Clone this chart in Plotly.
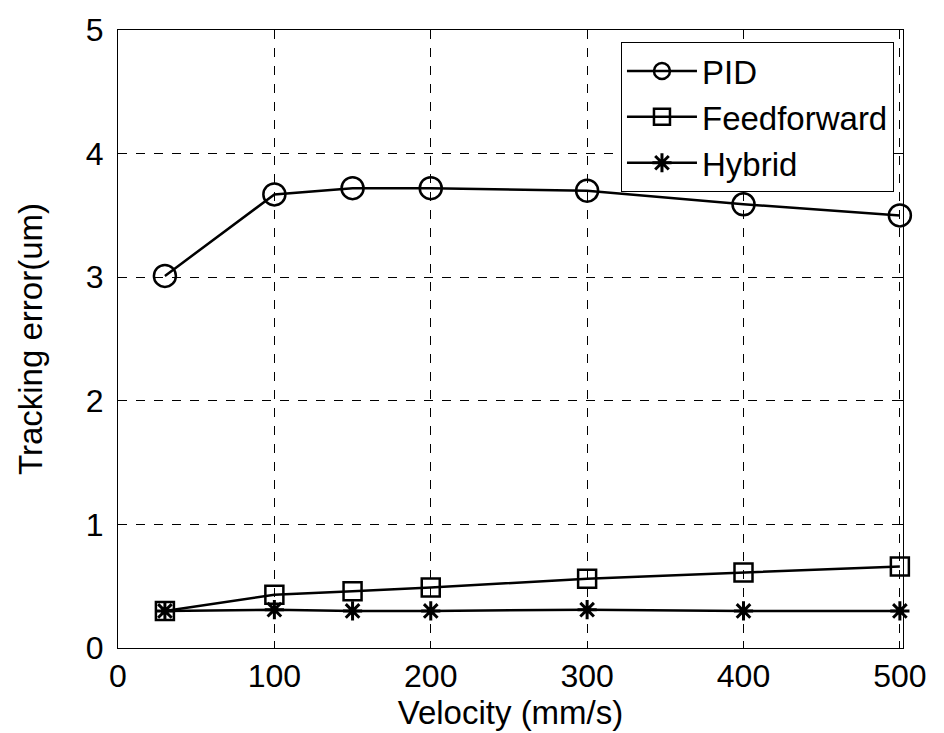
import plotly.graph_objects as go

velocity = [30, 100, 150, 200, 300, 400, 500]
pid = [3.01, 3.67, 3.72, 3.72, 3.70, 3.59, 3.50]
feedforward = [0.30, 0.43, 0.46, 0.49, 0.56, 0.61, 0.66]
hybrid = [0.30, 0.31, 0.30, 0.30, 0.31, 0.30, 0.30]

x_ticks = [0, 100, 200, 300, 400, 500]
y_ticks = [0, 1, 2, 3, 4, 5]

FONT = "Liberation Sans, Arial, sans-serif"

fig = go.Figure()
fig.add_trace(go.Scatter(
    x=velocity, y=pid, name="PID", mode="lines+markers", cliponaxis=False,
    line=dict(color="black", width=2.5),
    marker=dict(symbol="circle-open", size=22, color="black", line=dict(width=2.5)),
))
fig.add_trace(go.Scatter(
    x=velocity, y=feedforward, name="Feedforward", mode="lines+markers", cliponaxis=False,
    line=dict(color="black", width=2.5),
    marker=dict(symbol="square-open", size=18, color="black", line=dict(width=2.5)),
))
fig.add_trace(go.Scatter(
    x=velocity, y=hybrid, name="Hybrid", mode="lines+markers", cliponaxis=False,
    line=dict(color="black", width=2.5),
    marker=dict(symbol="asterisk-open", size=16, color="black", line=dict(width=3)),
))

axis_common = dict(
    showline=True, linecolor="black", linewidth=1, mirror="ticks",
    ticks="inside", ticklen=7, tickcolor="black",
    showgrid=True, gridcolor="black", gridwidth=1, griddash="dash",
    zeroline=False, automargin=False,
    tickfont=dict(family=FONT, size=32, color="black"),
)

fig.update_xaxes(
    range=[0, 502], tickvals=x_ticks, ticktext=[str(v) for v in x_ticks],
    ticklabelstandoff=0,
    title=dict(text="Velocity (mm/s)", font=dict(family=FONT, size=33, color="black"), standoff=4),
    **axis_common,
)
fig.update_yaxes(
    range=[0, 5], tickvals=y_ticks, ticktext=[str(v) for v in y_ticks],
    ticklabelstandoff=7,
    title=dict(text="Tracking error(um)", font=dict(family=FONT, size=33, color="black"), standoff=33),
    **axis_common,
)

# page body adds an 8px offset; figure is sized/offset to compensate
fig.update_layout(
    width=936, height=725,
    margin=dict(l=110, r=41, t=22, b=85),
    paper_bgcolor="white", plot_bgcolor="white",
    font=dict(family=FONT, color="black"),
    legend=dict(
        x=0.9885, y=0.9806, xanchor="right", yanchor="top",
        bgcolor="white", bordercolor="black", borderwidth=1,
        font=dict(family=FONT, size=33, color="black"),
        tracegroupgap=0, itemwidth=70,
    ),
    showlegend=True,
)

fig.write_html("out.html")
